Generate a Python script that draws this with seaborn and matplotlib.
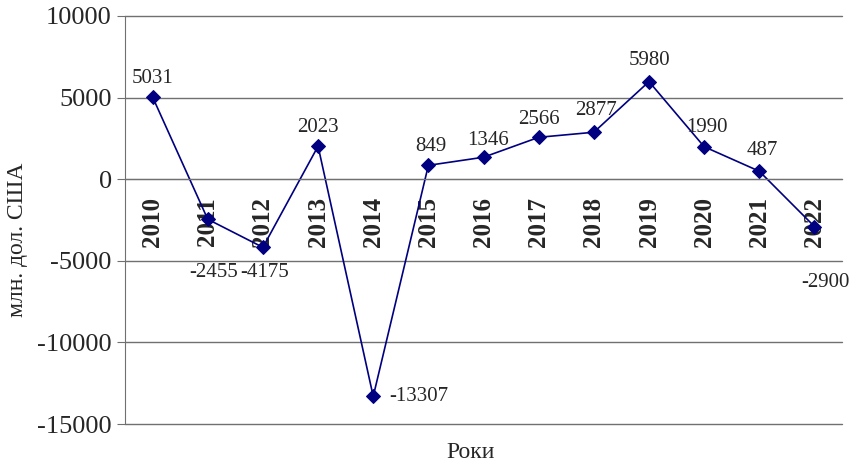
import numpy as np
import pandas as pd
import matplotlib.pyplot as plt
import seaborn as sns
from matplotlib.ticker import MultipleLocator

# ===========================================================
# Données
# ===========================================================

years = [2010, 2011, 2012, 2013, 2014, 2015, 2016, 2017, 2018, 2019, 2020, 2021, 2022]
values = [5031, -2455, -4175, 2023, -13307, 849, 1346, 2566, 2877, 5980, 1990, 487, -2900]
# décalages des étiquettes (pixels)
label_offsets = [(0, 19), (6, -53), (2, -25), (0, 19), (46, 0), (2, 19), (5, 17),
                 (0, 18), (2, 22), (0, 21), (3, 19), (3, 21), (11, -56)]

df = pd.DataFrame({"year": years, "value": values})

sns.set_style("white")
plt.rcParams["font.family"] = ["Liberation Serif", "DejaVu Serif"]
plt.rcParams["axes.unicode_minus"] = False

navy = "#000080"
grey = "#707070"

fig = plt.figure(figsize=(8.54, 4.66), dpi=100)
ax = fig.add_axes([0.1464, 0.0901, 0.8396, 0.8756])

sns.lineplot(
    x="year",
    y="value",
    data=df,
    color=navy,
    marker="D",
    markersize=7,
    markeredgecolor=navy,
    linewidth=1.2,
    ax=ax,
)

for x, y, (dx, dy) in zip(years, values, label_offsets):
    ax.annotate(str(y), (x, y), xytext=(dx, dy), textcoords="offset pixels",
                ha="center", va="center", fontsize=15)

# axes
ax.set_ylim(-15000, 10000)
ax.set_xlim(years[0] - 0.5, years[-1] + 0.5)
ax.yaxis.set_major_locator(MultipleLocator(5000))
ax.grid(axis="y", color=grey, linewidth=1)
ax.set_axisbelow(True)
for gl in ax.get_ygridlines():
    gl.set_clip_on(False)

ax.spines["bottom"].set_position(("data", 0))
ax.spines["bottom"].set_color(grey)
ax.spines["left"].set_color(grey)
ax.spines["top"].set_visible(False)
ax.spines["right"].set_visible(False)

ax.set_xticks(years)
ax.set_xticklabels([str(y) for y in years], rotation=90, fontweight="bold", fontsize=18)
ax.set_xticks([y + 0.5 for y in [years[0] - 1] + years], minor=True)
ax.tick_params(axis="x", which="major", length=0, pad=13)
ax.tick_params(axis="x", which="minor", length=6, color=grey, direction="out")
ax.tick_params(axis="y", length=6, color=grey, labelsize=19, left=True)

ax.set_xlabel("")
ax.set_ylabel("")
fig.text(0.021, 0.485, "млн. дол. США", rotation=90, ha="center", va="center", fontsize=17)
fig.text(0.551, 0.03, "Роки", ha="center", va="center", fontsize=17)

fig.savefig("out.png", dpi=100)
